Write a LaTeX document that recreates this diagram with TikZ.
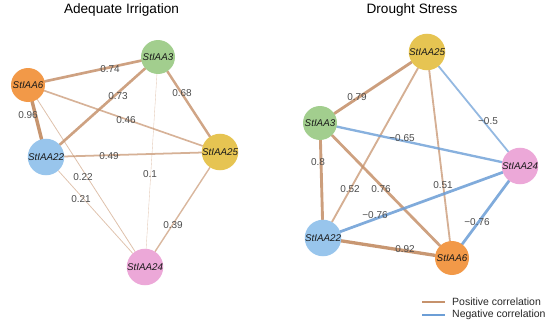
\documentclass[tikz,border=0pt]{standalone}
\usepackage{fontspec}
\setmainfont{Liberation Sans}
\usetikzlibrary{backgrounds}
\definecolor{cPos}{RGB}{198,146,108}
\definecolor{cNeg}{RGB}{108,158,214}
\definecolor{cSix}{RGB}{242,153,72}
\definecolor{cThree}{RGB}{162,206,142}
\definecolor{cTwentytwo}{RGB}{152,197,236}
\definecolor{cTwentyfive}{RGB}{230,196,82}
\definecolor{cTwentyfour}{RGB}{236,168,216}
\tikzset{
  gene/.style={circle, minimum size=34pt, inner sep=0pt, font=\fontsize{9.8}{10}\selectfont\itshape, text=black!90},
  elab/.style={font=\fontsize{10}{11}\selectfont, text=black!70, inner sep=0pt},
  ttl/.style={font=\fontsize{13.6}{15}\selectfont, inner sep=0pt},
  leg/.style={font=\fontsize{10.5}{12}\selectfont, text=black!85, anchor=west, inner sep=0pt},
  posedge/.style={cPos, line cap=round},
  negedge/.style={cNeg, line cap=round}
}

\begin{document}
\begin{tikzpicture}[x=1pt, y=-1pt]
  \useasboundingbox (0,0) rectangle (550,324);

  \node[ttl] (t-ai) at (121.5,10) {Adequate Irrigation};
  \node[ttl] (t-ds) at (412,10) {Drought Stress};

  % adequate irrigation
  \node[gene, fill=cThree] (a3) at (158,57) {StIAA3};
  \node[gene, fill=cSix] (a6) at (28,85) {StIAA6};
  \node[gene, fill=cTwentytwo] (a22) at (46,157) {StIAA22};
  \node[gene, fill=cTwentyfive] (a25) at (220,152) {StIAA25};
  \node[gene, fill=cTwentyfour] (a24) at (145,267) {StIAA24};

  % drought stress
  \node[gene, fill=cTwentyfive] (d25) at (427,52) {StIAA25};
  \node[gene, fill=cThree] (d3) at (320,123) {StIAA3};
  \node[gene, fill=cTwentyfour] (d24) at (520,166) {StIAA24};
  \node[gene, fill=cTwentytwo] (d22) at (323,238) {StIAA22};
  \node[gene, fill=cSix] (d6) at (452,258) {StIAA6};

  \foreach \a/\b/\w/\lx/\ly in {a6/a3/0.74/110/69, a22/a3/0.73/118/96, a3/a25/0.68/182/93,
      a6/a22/0.96/28/115, a6/a25/0.46/126/120, a22/a25/0.49/109/156, a6/a24/0.22/83/177,
      a3/a24/0.1/150/174, a22/a24/0.21/81/199, a25/a24/0.39/173/225,
      d3/d25/0.79/357/97, d3/d22/0.8/318/162, d25/d22/0.52/350/189, d3/d6/0.76/381/189,
      d25/d6/0.51/443/185, d22/d6/0.92/405/249} {
    \begin{pgfonlayer}{background}
      \draw[posedge, line width=\w*3.6pt, opacity=0.45+0.55*\w] (\a) -- (\b);
    \end{pgfonlayer}
    \node[elab] (l-\a-\b) at (\lx,\ly) {\w};
  }
  \foreach \a/\b/\w/\lx/\ly in {d25/d24/0.5/488/121, d3/d24/0.65/402/138,
      d22/d24/0.76/375/215, d24/d6/0.76/477/222} {
    \begin{pgfonlayer}{background}
      \draw[negedge, line width=\w*3.6pt, opacity=0.45+0.55*\w] (\a) -- (\b);
    \end{pgfonlayer}
    \node[elab] (l-\a-\b) at (\lx,\ly) {−\w};
  }

  % legend
  \coordinate (p1) at (422,302);
  \coordinate (p2) at (445,302);
  \coordinate (n1) at (422,315);
  \coordinate (n2) at (445,315);
  \draw[posedge, line width=2pt, line cap=butt] (p1) -- (p2);
  \draw[negedge, line width=2pt, line cap=butt] (n1) -- (n2);
  \node[leg] (lg-pos) at (452,302) {Positive correlation};
  \node[leg] (lg-neg) at (452,315) {Negative correlation};
\end{tikzpicture}
\end{document}
